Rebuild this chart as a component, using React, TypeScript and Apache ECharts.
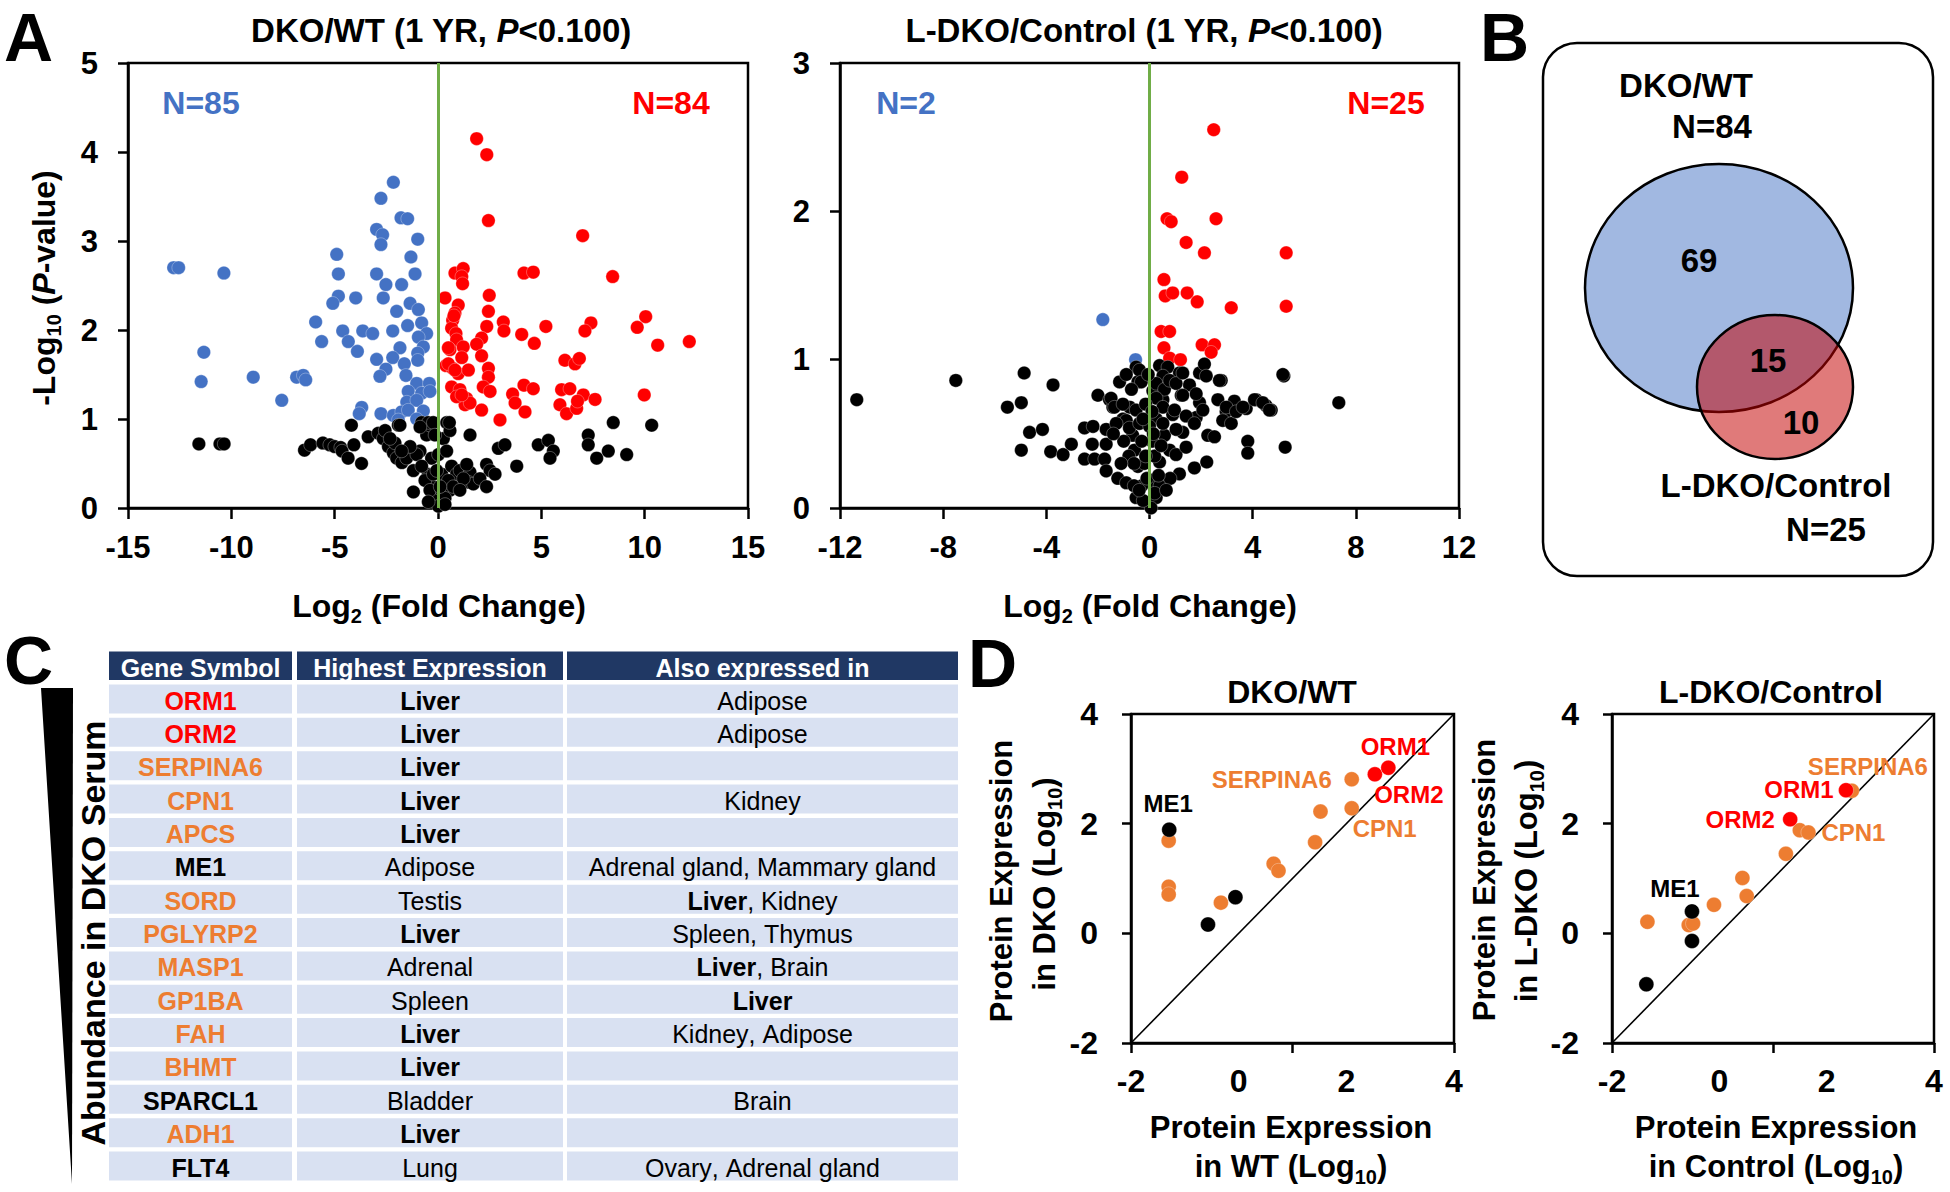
import React, { useEffect, useRef } from 'react';
import * as echarts from 'echarts';

const FONT = "'Liberation Sans', Arial, Helvetica, sans-serif";
const BLUE = '#4472C4';
const RED = '#FF0000';
const ORANGE = '#ED7D31';
const GREEN = '#70AD47';
const NAVY = '#203864';
const CELL = '#D9E1F2';

// ---------------- Panel A: DKO/WT volcano ----------------
const dkoWtDown: number[][] = [
  [-12.79, 2.7], [-12.55, 2.7], [-10.36, 2.64], [-11.33, 1.75], [-11.46, 1.42], [-8.94, 1.47],
  [-2.16, 3.66], [-2.76, 3.48], [-1.79, 3.26], [-1.47, 3.25], [-2.97, 3.13], [-2.68, 3.07], [-2.76, 2.96],
  [-0.98, 3.02], [-4.9, 2.85], [-1.31, 2.82], [-4.82, 2.63], [-2.97, 2.63], [-1.11, 2.63], [-2.52, 2.51],
  [-1.76, 2.51], [-4.82, 2.38], [-5.09, 2.3], [-3.98, 2.36], [-2.65, 2.36], [-1.35, 2.3], [-0.95, 2.23],
  [-2.0, 2.21], [-5.92, 2.09], [-5.63, 1.87], [-4.61, 1.99], [-4.34, 1.87], [-3.9, 1.76], [-3.64, 1.99],
  [-3.16, 1.96], [-2.19, 1.99], [-1.47, 2.05], [-0.79, 2.08], [-0.55, 1.96], [-0.95, 1.92], [-0.71, 1.81],
  [-0.98, 1.74], [-0.98, 1.66], [-1.84, 1.8], [-2.19, 1.69], [-2.97, 1.67], [-1.63, 1.62], [-1.55, 1.49],
  [-2.52, 1.56], [-2.81, 1.48], [-6.84, 1.47], [-6.52, 1.49], [-6.4, 1.44], [-7.56, 1.21], [-1.03, 1.4],
  [-0.42, 1.4], [-1.44, 1.31], [-0.79, 1.29], [-0.39, 1.31], [-1.51, 1.19], [-1.03, 1.21], [-3.69, 1.13],
  [-3.81, 1.06], [-2.76, 1.06], [-2.16, 1.04], [-1.76, 1.08], [-1.44, 1.1], [-0.71, 1.09], [-1.03, 1.0],
  [-1.92, 0.99]
];
const dkoWtUp: number[][] = [
  [1.87, 4.15], [2.36, 3.97], [2.44, 3.23], [0.82, 2.64], [1.22, 2.69], [1.15, 2.6], [1.19, 2.52],
  [4.16, 2.64], [4.61, 2.65], [0.34, 2.36], [2.48, 2.39], [0.98, 2.28], [0.82, 2.19], [2.44, 2.21],
  [0.71, 2.11], [0.66, 2.02], [3.16, 2.09], [3.19, 1.99], [2.36, 2.04], [5.22, 2.04], [0.87, 1.96],
  [0.9, 1.89], [4.05, 1.95], [4.66, 1.85], [2.11, 1.91], [1.87, 1.84], [0.58, 1.78], [1.22, 1.81],
  [1.15, 1.69], [2.11, 1.71], [6.14, 1.66], [0.39, 1.6], [0.71, 1.57], [0.98, 1.51], [1.47, 1.55],
  [2.44, 1.57], [2.44, 1.47], [0.66, 1.36], [1.06, 1.33], [1.39, 1.23], [1.31, 1.16], [1.55, 1.18],
  [2.19, 1.36], [2.52, 1.31], [4.16, 1.38], [4.61, 1.34], [3.61, 1.28], [3.73, 1.18], [5.98, 1.33],
  [5.9, 1.16], [6.22, 1.06], [2.11, 1.1], [4.21, 1.08], [3.0, 0.99], [0.9, 1.25],
  [7.0, 3.06], [8.45, 2.6], [7.4, 2.08], [7.11, 1.99], [10.05, 2.15], [9.64, 2.03], [10.63, 1.83],
  [12.16, 1.87], [6.63, 1.62], [6.84, 1.68], [6.38, 1.34], [7.03, 1.27], [7.6, 1.22], [6.71, 1.12],
  [6.75, 1.2], [9.98, 1.27], [0.77, 2.16], [0.5, 1.8], [0.5, 1.62], [0.82, 1.55], [1.15, 1.27]
];
const dkoWtNS: number[][] = [
  [-11.57, 0.72], [-10.55, 0.72], [-10.35, 0.72], [-6.46, 0.65], [-6.17, 0.71], [-5.57, 0.73], [-5.24, 0.71],
  [-5.0, 0.69], [-4.71, 0.68], [-4.64, 0.64], [-4.19, 0.93], [-4.07, 0.71], [-4.35, 0.56], [-3.7, 0.5],
  [-3.38, 0.8], [-2.89, 0.84], [-2.65, 0.78], [-2.4, 0.69], [-2.16, 0.62], [-1.92, 0.93], [-2.0, 0.56],
  [-1.75, 0.51], [-2.56, 0.87], [-2.08, 0.73], [-1.84, 0.93], [-1.52, 0.56], [-1.19, 0.42], [-1.19, 0.18],
  [-0.87, 0.64], [-0.55, 0.82], [-0.39, 0.93], [-0.31, 0.56], [-0.47, 0.38], [-0.23, 0.24], [-0.15, 0.09],
  [0.02, 0.02], [0.18, 0.38], [0.26, 0.78], [0.42, 0.96], [0.58, 0.87], [0.58, 0.2], [0.66, 0.47],
  [0.9, 0.38], [1.06, 0.42], [1.55, 0.4], [1.55, 0.82], [1.47, 0.29], [1.71, 0.27], [2.35, 0.49],
  [2.52, 0.42], [2.76, 0.38], [2.92, 0.67], [3.24, 0.71], [3.81, 0.47], [4.85, 0.71], [5.34, 0.76],
  [5.58, 0.64], [5.42, 0.56], [7.27, 0.82], [7.27, 0.71], [7.68, 0.56], [8.24, 0.64], [8.48, 0.96],
  [9.13, 0.6], [10.34, 0.93], [-0.79, 0.96], [-0.47, 0.96], [-0.23, 0.96], [0.55, 0.96], [-1.03, 0.6],
  [-0.79, 0.47], [-0.63, 0.31], [-0.39, 0.2], [-0.23, 0.38], [0.18, 0.2], [0.34, 0.11], [0.5, 0.31],
  [0.74, 0.24], [1.23, 0.33], [1.06, 0.2], [-1.35, 0.69], [-1.76, 0.64], [-2.32, 0.78], [-0.87, 0.91],
  [-0.15, 0.82], [0.02, 0.6], [0.42, 0.64], [-0.06, 0.42], [0.1, 0.24], [-0.47, 0.07], [0.34, 0.04],
  [1.39, 0.49], [2.03, 0.33], [2.35, 0.24]
];

// ---------------- Panel A: L-DKO/Control volcano ----------------
const ldkoDown: number[][] = [[-1.81, 1.27], [-0.54, 1.0]];
const ldkoUp: number[][] = [
  [2.49, 2.55], [1.25, 2.23], [0.68, 1.95], [0.84, 1.93], [2.58, 1.95], [1.42, 1.79], [2.13, 1.72],
  [5.3, 1.72], [0.56, 1.54], [0.61, 1.43], [0.9, 1.45], [1.46, 1.45], [1.85, 1.39], [3.17, 1.35],
  [5.3, 1.36], [0.45, 1.19], [0.78, 1.19], [0.56, 1.08], [2.04, 1.1], [2.52, 1.1], [2.39, 1.05],
  [0.78, 1.01], [1.2, 1.0]
];
const ldkoNS: number[][] = [
  [-11.35, 0.73], [-7.51, 0.86], [-4.86, 0.91], [-3.74, 0.83], [-5.51, 0.68], [-4.97, 0.71], [-4.65, 0.51],
  [-4.15, 0.53], [-4.97, 0.39], [-3.83, 0.38], [-3.35, 0.36], [-3.03, 0.43], [-2.0, 0.76], [-2.52, 0.54],
  [-2.19, 0.55], [-1.68, 0.53], [-2.22, 0.43], [-1.68, 0.43], [-2.52, 0.33], [-2.13, 0.33], [-1.74, 0.33],
  [-1.55, 0.73], [-1.42, 0.68], [-1.16, 0.85], [-1.03, 0.6], [-0.77, 0.68], [-1.68, 0.25], [-1.23, 0.2],
  [-0.9, 0.17], [-0.52, 0.95], [-0.45, 0.85], [-0.65, 0.49], [-0.58, 0.39], [-0.45, 0.28], [-0.52, 0.07],
  [-0.39, 0.93], [-0.32, 0.85], [0.39, 0.96], [0.71, 0.95], [1.16, 0.91], [1.23, 0.76], [1.55, 0.83],
  [1.94, 0.91], [2.13, 0.97], [2.78, 0.86], [5.21, 0.89], [7.34, 0.71], [2.65, 0.73], [3.29, 0.72],
  [4.13, 0.73], [4.52, 0.69], [4.72, 0.66], [2.97, 0.65], [3.75, 0.67], [2.84, 0.59], [3.17, 0.57],
  [2.26, 0.49], [2.52, 0.48], [3.81, 0.45], [3.81, 0.37], [5.26, 0.41], [2.22, 0.31], [1.74, 0.27],
  [1.16, 0.23], [1.94, 0.71], [1.81, 0.61], [0.9, 0.63], [1.29, 0.51], [0.78, 0.39], [0.39, 0.31],
  [0.13, 0.17], [0.26, 0.07], [0.58, 0.49], [1.03, 0.36], [1.42, 0.41], [0.13, 0.79], [0.52, 0.73],
  [0.26, 0.6], [0.06, 0.0], [-1.49, 0.74], [-1.36, 0.68], [-1.03, 0.7], [-0.52, 0.66], [-0.9, 0.59],
  [-1.29, 0.57], [-0.78, 0.54], [-0.39, 0.57], [0.52, 0.89], [0.26, 0.84], [0.58, 0.8], [0.26, 0.74],
  [0.78, 0.86], [1.03, 0.84], [1.29, 0.91], [1.29, 0.76], [0.52, 0.68], [0.52, 0.57], [0.97, 0.66],
  [1.42, 0.62], [1.81, 0.77], [2.2, 0.89], [2.71, 0.86], [2.07, 0.66], [1.74, 0.57], [1.03, 0.53],
  [2.98, 0.68], [3.36, 0.65], [3.62, 0.68], [4.07, 0.73], [4.39, 0.71], [4.65, 0.66], [5.17, 0.9],
  [-0.3, 0.15], [-0.2, 0.3], [0.1, 0.45], [-0.1, 0.2], [0.4, 0.15], [-0.8, 0.35], [-1.0, 0.45],
  [0.2, 0.35], [-0.3, 0.45], [0.8, 0.2], [-0.6, 0.15], [0.0, 0.55], [-0.15, 0.7], [0.1, 0.65],
  [-0.7, 0.8], [-0.9, 0.9], [-0.25, 0.05], [0.2, 0.1], [-0.4, 0.12], [0.35, 0.22], [-0.6, 0.3],
  [-0.15, 0.35], [0.65, 0.12], [-1.1, 0.3], [-1.4, 0.5], [0.15, 0.5], [-0.05, 0.9], [-0.25, 0.6],
  [0.45, 0.42]
];

const volcanoTitles = ['DKO/WT', 'L-DKO/Control'];
const volcanoCounts = [[85, 84], [2, 25]];

// ---------------- Panel B: Venn ----------------
const vennLabels = ['DKO/WT', 'L-DKO/Control'];
const vennTotals = [84, 25];
const vennRegions = [69, 15, 10]; // DKO/WT only, shared, L-DKO/Control only

// ---------------- Panel C: table ----------------
const tableHeaders = ['Gene Symbol', 'Highest Expression', 'Also expressed in'];
const geneSymbols = ['ORM1', 'ORM2', 'SERPINA6', 'CPN1', 'APCS', 'ME1', 'SORD', 'PGLYRP2', 'MASP1', 'GP1BA', 'FAH', 'BHMT', 'SPARCL1', 'ADH1', 'FLT4'];
const geneGroups = ['both', 'both', 'shared', 'shared', 'shared', 'none', 'shared', 'shared', 'shared', 'shared', 'shared', 'shared', 'none', 'shared', 'none'];
const highestExpression = ['Liver', 'Liver', 'Liver', 'Liver', 'Liver', 'Adipose', 'Testis', 'Liver', 'Adrenal', 'Spleen', 'Liver', 'Liver', 'Bladder', 'Liver', 'Lung'];
const alsoExpressedIn = ['Adipose', 'Adipose', '', 'Kidney', '', 'Adrenal gland, Mammary gland', 'Liver, Kidney', 'Spleen, Thymus', 'Liver, Brain', 'Liver', 'Kidney, Adipose', '', 'Brain', '', 'Ovary, Adrenal gland'];

// ---------------- Panel D: scatter ----------------
const dkoWtOrange: number[][] = [[-1.3, 1.69], [-1.3, 0.85], [-1.3, 0.71], [-0.33, 0.56], [0.65, 1.27], [0.74, 1.14], [1.42, 1.66], [1.52, 2.22], [2.1, 2.28], [2.1, 2.81]];
const dkoWtOrangeNames = ['', '', '', '', '', '', '', '', 'CPN1', 'SERPINA6'];
const dkoWtBlack: number[][] = [[-1.29, 1.89], [-0.57, 0.16], [-0.06, 0.66]];
const dkoWtBlackNames = ['ME1', '', ''];
const dkoWtRed: number[][] = [[2.53, 2.9], [2.78, 3.02]];
const dkoWtRedNames = ['ORM2', 'ORM1'];

const ldkoOrange: number[][] = [[-1.34, 0.21], [-0.57, 0.15], [-0.49, 0.18], [-0.1, 0.52], [0.43, 1.01], [0.51, 0.68], [1.24, 1.45], [1.5, 1.88], [1.66, 1.84], [2.47, 2.6]];
const ldkoOrangeNames = ['', '', '', '', '', '', '', '', 'CPN1', 'SERPINA6'];
const ldkoBlack: number[][] = [[-0.51, 0.4], [-0.51, -0.14], [-1.36, -0.93]];
const ldkoBlackNames = ['ME1', '', ''];
const ldkoRed: number[][] = [[2.36, 2.61], [1.32, 2.08]];
const ldkoRedNames = ['ORM1', 'ORM2'];
const identityLine: number[][] = [[-2, -2], [4, 4]];

const labelOffsetD1: Record<string, number[]> = {
  ME1: [-1, -26], ORM1: [7, -21], ORM2: [34, 20], SERPINA6: [-80, 0], CPN1: [33, 20]
};
const labelOffsetD2: Record<string, number[]> = {
  ME1: [-17, -23], ORM1: [-47, -1], ORM2: [-50, 0], SERPINA6: [16, -24], CPN1: [45, 0]
};

const colorOf = (g: string) => (g === 'both' ? RED : g === 'shared' ? ORANGE : '#000');

function txt(x: number, y: number, text: string, size: number, o: any = {}) {
  const align = o.align || 'center';
  return {
    type: 'text',
    x,
    y,
    rotation: o.rot || 0,
    z: o.z || 20,
    silent: true,
    style: {
      text,
      fill: o.color || '#000',
      font: `${o.weight || 'bold'} ${size}px ${FONT}`,
      fontSize: size,
      fontWeight: o.weight || 'bold',
      fontFamily: FONT,
      align,
      textAlign: align,
      verticalAlign: 'middle',
      textVerticalAlign: 'middle',
      rich: o.rich
    }
  };
}

function richSet(size: number, sub: number) {
  return {
    a: { fontSize: size, fontWeight: 'bold', fontFamily: FONT, lineHeight: size, verticalAlign: 'top' },
    i: { fontSize: size, fontWeight: 'bold', fontStyle: 'italic', fontFamily: FONT, lineHeight: size, verticalAlign: 'top' },
    s: { fontSize: sub, fontWeight: 'bold', fontFamily: FONT, lineHeight: sub, padding: [Math.round(size * 0.5), 0, 0, 0], verticalAlign: 'top' }
  };
}

function tableCellRich(size: number) {
  return {
    b: { fontSize: size, fontWeight: 'bold', fontFamily: FONT },
    n: { fontSize: size, fontWeight: 'normal', fontFamily: FONT }
  };
}

function buildGraphics() {
  const g: any[] = [];
  // panel letters
  g.push(txt(4, 37, 'A', 68, { align: 'left' }));
  g.push(txt(1480, 37, 'B', 68, { align: 'left' }));
  g.push(txt(4, 660, 'C', 68, { align: 'left' }));
  g.push(txt(968, 663, 'D', 68, { align: 'left' }));

  // Panel A titles and counts
  const r33 = richSet(33, 21);
  const r32 = richSet(32, 20);
  g.push(txt(441, 30, `{a|${volcanoTitles[0]} (1 YR, }{i|P}{a|<0.100)}`, 33, { rich: r33 }));
  g.push(txt(1144, 30, `{a|${volcanoTitles[1]} (1 YR, }{i|P}{a|<0.100)}`, 33, { rich: r33 }));
  g.push(txt(201, 103, `N=${volcanoCounts[0][0]}`, 32, { color: BLUE }));
  g.push(txt(671, 103, `N=${volcanoCounts[0][1]}`, 32, { color: RED }));
  g.push(txt(906, 103, `N=${volcanoCounts[1][0]}`, 32, { color: BLUE }));
  g.push(txt(1386, 103, `N=${volcanoCounts[1][1]}`, 32, { color: RED }));
  g.push(txt(439, 606, '{a|Log}{s|2}{a| (Fold Change)}', 32, { rich: r32 }));
  g.push(txt(1150, 606, '{a|Log}{s|2}{a| (Fold Change)}', 32, { rich: r32 }));
  g.push(txt(44, 288, '{a|-Log}{s|10}{a| (}{i|P}{a|-value)}', 32, { rich: r32, rot: Math.PI / 2 }));

  // Panel B Venn
  g.push({ type: 'rect', z: 1, silent: true, shape: { x: 1543, y: 43, width: 390, height: 533, r: 34 }, style: { fill: 'none', stroke: '#000', lineWidth: 2.5 } });
  g.push({ type: 'ellipse', z: 2, silent: true, shape: { cx: 1719, cy: 288, rx: 134, ry: 124 }, style: { fill: 'rgba(68,114,196,0.5)', stroke: '#000', lineWidth: 2.5 } });
  g.push({ type: 'ellipse', z: 3, silent: true, shape: { cx: 1775, cy: 387, rx: 78, ry: 72 }, style: { fill: 'rgba(195,0,0,0.52)', stroke: '#000', lineWidth: 2.5 } });
  g.push(txt(1686, 85, vennLabels[0], 33));
  g.push(txt(1712, 126, `N=${vennTotals[0]}`, 33));
  g.push(txt(1699, 260, String(vennRegions[0]), 33));
  g.push(txt(1768, 360, String(vennRegions[1]), 33));
  g.push(txt(1801, 422, String(vennRegions[2]), 33));
  g.push(txt(1776, 485, vennLabels[1], 33));
  g.push(txt(1826, 529, `N=${vennTotals[1]}`, 33));

  // Panel C table
  g.push({ type: 'polygon', z: 1, silent: true, shape: { points: [[41, 688], [73, 688], [72, 1184]] }, style: { fill: '#000' } });
  g.push(txt(93, 933, 'Abundance in DKO Serum', 34, { rot: Math.PI / 2 }));
  const colX = [109, 297, 567];
  const colW = [183, 266, 391];
  for (let c = 0; c < 3; c++) {
    g.push({ type: 'rect', z: 1, silent: true, shape: { x: colX[c], y: 651.5, width: colW[c], height: 28.5 }, style: { fill: NAVY } });
    g.push(txt(colX[c] + colW[c] / 2, 668, tableHeaders[c], 25, { color: '#fff' }));
  }
  const pitch = 33.36;
  for (let r = 0; r < geneSymbols.length; r++) {
    const top = 684.5 + r * pitch;
    for (let c = 0; c < 3; c++) {
      g.push({ type: 'rect', z: 1, silent: true, shape: { x: colX[c], y: top, width: colW[c], height: 29 }, style: { fill: CELL } });
    }
    const cy = top + 16;
    g.push(txt(colX[0] + colW[0] / 2, cy, geneSymbols[r], 25, { color: colorOf(geneGroups[r]) }));
    const he = highestExpression[r];
    g.push(txt(colX[1] + colW[1] / 2, cy, he, 25, { weight: he === 'Liver' ? 'bold' : 'normal' }));
    const ae = alsoExpressedIn[r];
    if (ae) {
      const parts = ae.split(', ').map((p) => (p === 'Liver' ? `{b|${p}}` : `{n|${p}}`));
      const rich = parts.join('{n|, }');
      g.push(txt(colX[2] + colW[2] / 2, cy, rich, 25, { weight: 'normal', rich: tableCellRich(25) }));
    }
  }

  // Panel D titles and axis titles
  const r31 = richSet(31, 20);
  g.push(txt(1292, 692, 'DKO/WT', 32));
  g.push(txt(1771, 692, 'L-DKO/Control', 32));
  g.push(txt(1291, 1127, 'Protein Expression', 31));
  g.push(txt(1291, 1166, '{a|in WT (Log}{s|10}{a|)}', 31, { rich: r31 }));
  g.push(txt(1776, 1127, 'Protein Expression', 31));
  g.push(txt(1776, 1166, '{a|in Control (Log}{s|10}{a|)}', 31, { rich: r31 }));
  g.push(txt(1001, 881, 'Protein Expression', 31, { rot: Math.PI / 2 }));
  g.push(txt(1044, 884, '{a|in DKO (Log}{s|10}{a|)}', 31, { rot: Math.PI / 2, rich: r31 }));
  g.push(txt(1484, 880, 'Protein Expression', 31, { rot: Math.PI / 2 }));
  g.push(txt(1526, 881, '{a|in L-DKO (Log}{s|10}{a|)}', 31, { rot: Math.PI / 2, rich: r31 }));
  return g;
}

const axisText = { color: '#000', fontSize: 31, fontWeight: 'bold', fontFamily: FONT };
const blackLine = { color: '#000', width: 2.5 };

function volcanoAxes(idx: number, xMin: number, xMax: number, xInt: number, yMax: number) {
  return {
    x: {
      type: 'value', gridIndex: idx, min: xMin, max: xMax, interval: xInt,
      axisLine: { show: true, onZero: false, lineStyle: blackLine },
      axisTick: { show: true, inside: false, length: 11, lineStyle: blackLine },
      axisLabel: { ...axisText, margin: 24 },
      splitLine: { show: false }
    },
    y: {
      type: 'value', gridIndex: idx, min: 0, max: yMax, interval: 1,
      axisLine: { show: true, onZero: false, lineStyle: blackLine },
      axisTick: { show: true, inside: false, length: 10, lineStyle: blackLine },
      axisLabel: { ...axisText, margin: 30 },
      splitLine: { show: false }
    }
  };
}

function dAxes(idx: number) {
  return {
    x: {
      type: 'value', gridIndex: idx, min: -2, max: 4, interval: 2,
      axisLine: { show: true, onZero: false, lineStyle: blackLine },
      axisTick: { show: true, inside: false, length: 10, lineStyle: blackLine, customValues: [-2, 1, 4] },
      axisLabel: { ...axisText, fontSize: 32, margin: 22 },
      splitLine: { show: false }
    },
    y: {
      type: 'value', gridIndex: idx, min: -2, max: 4, interval: 2,
      axisLine: { show: true, onZero: false, lineStyle: blackLine },
      axisTick: { show: true, inside: false, length: 9, lineStyle: blackLine },
      axisLabel: { ...axisText, fontSize: 32, margin: 33 },
      splitLine: { show: false }
    }
  };
}

function scatter(idx: number, data: any[], color: string, z: number, size = 13.5) {
  return {
    type: 'scatter', xAxisIndex: idx, yAxisIndex: idx, data, symbolSize: size, z, silent: true,
    itemStyle: { color, opacity: 1, borderColor: 'rgba(255,255,255,0.5)', borderWidth: 0.6 }
  };
}

function labeled(points: number[][], names: string[], color: string, offsets: Record<string, number[]>) {
  return points.map((p, i) => {
    const nm = names[i];
    if (!nm) return p;
    return {
      value: p,
      label: {
        show: true, position: 'inside', offset: offsets[nm], formatter: nm,
        color, fontSize: 24, fontWeight: 'bold', fontFamily: FONT, align: 'center', verticalAlign: 'middle'
      }
    };
  });
}

function greenLine(idx: number) {
  return {
    type: 'scatter', xAxisIndex: idx, yAxisIndex: idx, data: [], z: 8, silent: true,
    markLine: {
      silent: true, symbol: ['none', 'none'], animation: false,
      label: { show: false },
      lineStyle: { color: GREEN, width: 3, type: 'solid' },
      data: [{ xAxis: 0 }]
    }
  };
}

function buildOption() {
  const a0 = volcanoAxes(0, -15, 15, 5, 5);
  const a1 = volcanoAxes(1, -12, 12, 4, 3);
  const d2 = dAxes(2);
  const d3 = dAxes(3);
  const gridStyle = { show: true, borderColor: '#000', borderWidth: 2.5, backgroundColor: 'transparent', containLabel: false };
  return {
    animation: false,
    backgroundColor: '#fff',
    textStyle: { fontFamily: FONT },
    grid: [
      { ...gridStyle, left: 128, top: 63, width: 620, height: 445 },
      { ...gridStyle, left: 840, top: 63, width: 619, height: 445 },
      { ...gridStyle, left: 1131, top: 714, width: 323, height: 329 },
      { ...gridStyle, left: 1612, top: 714, width: 322, height: 329 }
    ],
    xAxis: [a0.x, a1.x, d2.x, d3.x],
    yAxis: [a0.y, a1.y, d2.y, d3.y],
    series: [
      scatter(0, dkoWtDown, BLUE, 2),
      scatter(0, dkoWtUp, RED, 3),
      scatter(0, dkoWtNS, '#000', 4),
      greenLine(0),
      scatter(1, ldkoDown, BLUE, 2),
      scatter(1, ldkoUp, RED, 3),
      scatter(1, ldkoNS, '#000', 4),
      greenLine(1),
      {
        type: 'line', xAxisIndex: 2, yAxisIndex: 2, data: identityLine, symbol: 'none', z: 1, silent: true,
        lineStyle: { color: '#000', width: 1.6 }
      },
      scatter(2, labeled(dkoWtOrange, dkoWtOrangeNames, ORANGE, labelOffsetD1), ORANGE, 2, 15),
      scatter(2, labeled(dkoWtBlack, dkoWtBlackNames, '#000', labelOffsetD1), '#000', 3, 15),
      scatter(2, labeled(dkoWtRed, dkoWtRedNames, RED, labelOffsetD1), RED, 4, 15),
      {
        type: 'line', xAxisIndex: 3, yAxisIndex: 3, data: identityLine, symbol: 'none', z: 1, silent: true,
        lineStyle: { color: '#000', width: 1.6 }
      },
      scatter(3, labeled(ldkoOrange, ldkoOrangeNames, ORANGE, labelOffsetD2), ORANGE, 2, 15),
      scatter(3, labeled(ldkoBlack, ldkoBlackNames, '#000', labelOffsetD2), '#000', 3, 15),
      scatter(3, labeled(ldkoRed, ldkoRedNames, RED, labelOffsetD2), RED, 4, 15)
    ],
    graphic: { elements: buildGraphics() }
  };
}

export default function App() {
  const ref = useRef<HTMLDivElement>(null);
  useEffect(() => {
    document.body.style.margin = '0';
    const chart = echarts.init(ref.current as HTMLDivElement, null, { renderer: 'svg' });
    chart.setOption(buildOption() as any);
    return () => {
      chart.dispose();
    };
  }, []);
  return <div ref={ref} style={{ width: 1950, height: 1192, background: '#fff' }} />;
}
